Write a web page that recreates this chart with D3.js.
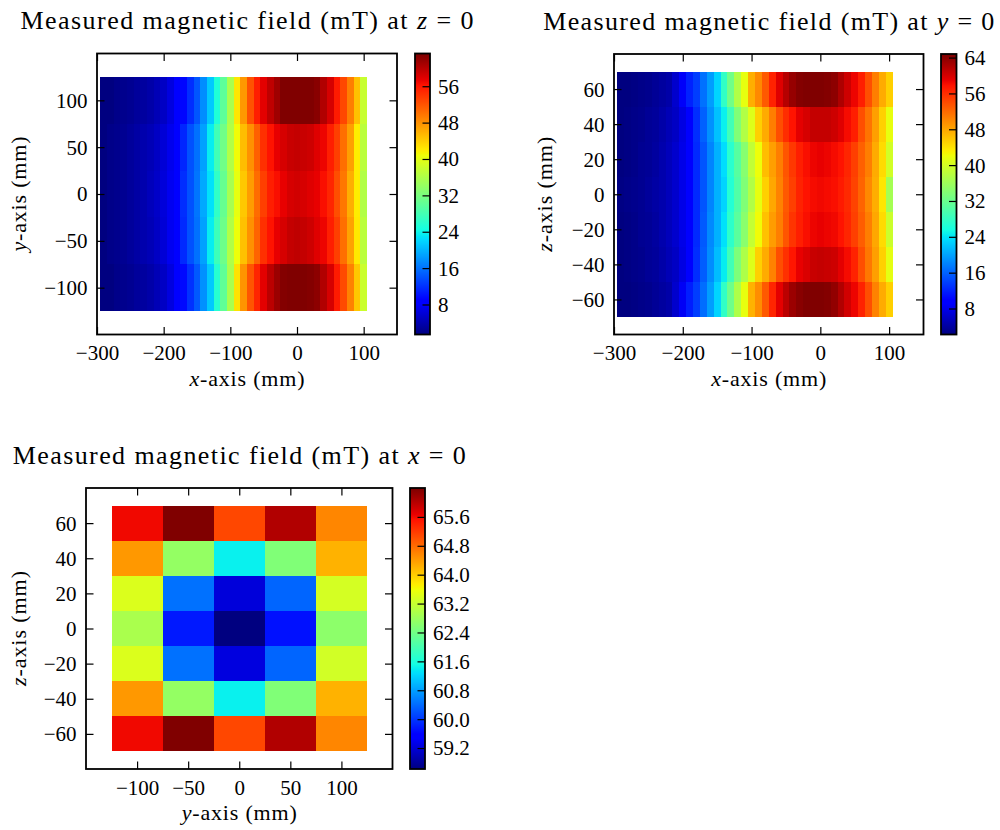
<!DOCTYPE html>
<html><head><meta charset="utf-8">
<script src="https://cdn.jsdelivr.net/npm/d3@7"></script>
<style>
body{margin:0;background:#fff}
svg{display:block}
</style>
</head><body>
<svg id="chart" width="1000" height="830" font-family="Liberation Serif"></svg>
<script>
// ---------- data ----------
// x positions of the scan (mm), shared by the z=0 and y=0 maps
const xPositions = [-290,-280,-270,-260,-250,-240,-230,-220,-210,-200,-190,-180,-170,-160,-150,-140,-130,-120,-110,-100,
  -90,-80,-70,-60,-50,-40,-30,-20,-10,0,10,20,30,40,50,60,70,80,90,100];
const yPositionsA = [100, 50, 0, -50, -100];      // rows of map at z=0
const zPositions = [60, 40, 20, 0, -20, -40, -60]; // rows of maps at y=0 and x=0
const yPositionsC = [-100, -50, 0, 50, 100];      // columns of map at x=0

// Map A : field (mT) at z = 0, one array per y row
const fieldZ0_y100 = [1.4,1.6,1.9,2.2,2.5,2.9,3.3,3.8,4.4,5.1,6.5,8.5,9.6,12.0,14.4,17.8,21.2,25.5,30.0,35.7,
  42.6,47.6,52.1,55.5,57.8,59.8,61.5,63.0,63.2,63.2,63.1,63.0,62.5,60.5,58.5,55.9,53.0,49.3,44.9,38.0];
const fieldZ0_y50 = [1.6,1.9,2.2,2.5,2.9,3.4,3.9,4.5,5.2,6.0,7.4,8.6,11.5,14.0,15.9,18.8,23.6,27.9,31.4,36.3,
  41.0,45.1,48.2,51.3,54.5,56.4,57.6,58.5,59.3,59.5,59.3,58.9,58.0,57.3,55.5,53.5,50.3,47.2,42.1,36.9];
const fieldZ0_y0 = [1.6,1.9,2.3,2.6,3.0,3.5,4.0,4.7,5.4,6.3,7.6,9.0,12.0,14.0,16.3,19.3,22.7,26.7,30.8,35.6,
  40.3,44.5,47.5,50.6,53.5,55.5,56.6,57.6,58.5,58.7,58.5,58.0,57.5,56.6,55.0,52.5,49.7,46.3,42.1,36.3];
const fieldZ0_yM50 = [1.6,1.9,2.2,2.5,2.9,3.4,3.9,4.5,5.2,6.1,7.5,8.8,11.6,14.1,16.0,19.0,23.4,27.6,31.2,36.2,
  40.8,45.0,48.0,51.1,54.3,56.2,57.5,58.6,59.4,59.6,59.4,59.0,58.1,57.2,55.6,53.4,50.2,47.0,42.2,37.0];
const fieldZ0_yM100 = [1.4,1.6,1.9,2.2,2.5,2.9,3.3,3.8,4.4,5.1,6.6,8.4,9.8,12.2,14.6,17.9,21.4,25.8,30.2,35.9,
  42.8,47.8,52.0,55.2,57.8,59.9,61.6,62.9,63.2,63.2,63.1,62.9,62.4,60.4,58.4,55.8,52.8,49.1,44.6,38.2];

// Map B : field (mT) at y = 0, one array per z row
const fieldY0_z60 = [2.2,2.3,2.5,2.8,3.1,3.5,4.0,4.6,6.5,8.9,12.0,13.9,16.9,19.8,23.2,27.8,32.6,37.5,41.8,47.5,
  49.9,53.2,56.8,59.5,61.7,63.4,64.4,64.8,64.8,64.7,64.5,63.9,62.2,60.4,58.8,57.0,53.9,50.7,47.9,45.4];
const fieldY0_z40 = [2.4,2.6,2.8,3.1,3.5,3.9,4.5,5.2,6.1,7.6,9.5,12.9,15.9,18.9,21.8,24.7,29.0,33.8,37.5,41.0,
  45.4,47.9,50.7,53.9,56.0,57.8,59.2,60.0,60.9,61.1,60.9,60.6,59.5,58.4,57.0,53.9,51.4,48.6,45.4,41.8];
const fieldY0_z20 = [2.4,2.6,2.9,3.2,3.6,4.1,4.7,5.4,6.4,7.9,9.6,12.5,15.4,18.3,20.9,23.7,27.2,30.8,34.4,38.8,
  42.3,46.5,48.6,50.7,53.4,55.5,57.0,58.0,58.8,59.0,58.8,58.4,57.8,56.5,54.9,52.8,50.7,47.9,44.6,39.9];
const fieldY0_z0 = [2.5,2.7,3.0,3.3,3.7,4.2,4.8,5.5,6.5,8.0,9.8,12.5,15.4,18.3,20.9,23.2,26.8,30.2,33.8,37.5,
  41.8,45.4,48.1,50.4,53.1,54.9,56.8,57.8,58.3,58.5,58.3,58.0,57.4,56.3,54.6,52.5,50.1,47.5,44.0,36.5];
const fieldY0_zM20 = [2.4,2.6,2.9,3.2,3.6,4.1,4.7,5.4,6.4,7.9,9.7,12.6,15.5,18.4,21.0,23.8,27.4,31.0,34.6,38.9,
  42.4,46.4,48.7,50.8,53.5,55.6,57.1,58.1,58.9,59.1,58.9,58.5,57.9,56.6,55.0,52.9,50.8,48.0,44.7,39.6];
const fieldY0_zM40 = [2.4,2.6,2.8,3.1,3.5,3.9,4.5,5.2,6.1,7.6,9.4,12.8,15.8,18.8,21.7,24.6,28.9,33.6,37.4,40.9,
  45.3,47.8,50.6,53.8,55.9,57.7,59.1,59.9,60.8,61.0,60.8,60.5,59.4,58.3,56.9,53.8,51.3,48.5,45.3,41.5];
const fieldY0_zM60 = [2.2,2.3,2.5,2.8,3.1,3.5,4.0,4.6,6.4,8.8,11.9,13.8,16.8,19.7,23.1,27.7,32.5,37.4,41.7,47.4,
  49.8,53.1,56.7,59.4,61.6,63.3,64.3,64.8,64.7,64.6,64.4,63.8,62.1,60.3,58.7,56.9,53.8,50.6,47.8,45.3];

// Map C : field (mT) at x = 0, one array per z row (columns = yPositionsC)
const fieldX0_z60  = [65.62, 66.40, 65.11, 66.05, 64.59];
const fieldX0_z40  = [64.44, 62.74, 61.42, 62.55, 64.23];
const fieldX0_z20  = [63.40, 60.47, 59.25, 60.37, 63.34];
const fieldX0_z0   = [62.94, 59.78, 58.62, 59.72, 62.67];
const fieldX0_zM20 = [63.41, 60.45, 59.26, 60.38, 63.33];
const fieldX0_zM40 = [64.43, 62.73, 61.43, 62.56, 64.22];
const fieldX0_zM60 = [65.61, 66.40, 65.12, 66.04, 64.60];

// tick labels
const ticksX_AB = [-300, -200, -100, 0, 100];
const ticksY_A = [-100, -50, 0, 50, 100];
const ticksZ = [-60, -40, -20, 0, 20, 40, 60];
const ticksY_C = [-100, -50, 0, 50, 100];
const cbarTicksA = [8, 16, 24, 32, 40, 48, 56];
const cbarTicksB = [8, 16, 24, 32, 40, 48, 56, 64];
const cbarTicksC = [59.2, 60.0, 60.8, 61.6, 62.4, 63.2, 64.0, 64.8, 65.6];

// ---------- jet colormap (matplotlib segment data) ----------
const jetSeg = {
  r: [[0,0],[0.35,0],[0.66,1],[0.89,1],[1,0.5]],
  g: [[0,0],[0.125,0],[0.375,1],[0.64,1],[0.91,0],[1,0]],
  b: [[0,0.5],[0.11,1],[0.34,1],[0.65,0],[1,0]]
};
function segInterp(seg, t) {
  for (let i = 1; i < seg.length; i++) {
    if (t <= seg[i][0]) {
      const [x0, y0] = seg[i-1], [x1, y1] = seg[i];
      return y0 + (y1 - y0) * (t - x0) / (x1 - x0);
    }
  }
  return seg[seg.length-1][1];
}
function jet(t) {
  t = Math.max(0, Math.min(1, t));
  t = Math.min(255, Math.floor(t * 256)) / 255; // 256-entry lut
  return d3.rgb(255*segInterp(jetSeg.r,t), 255*segInterp(jetSeg.g,t), 255*segInterp(jetSeg.b,t)).formatHex();
}

const FONT = "Liberation Serif";
const svg = d3.select("#chart");
const defs = svg.append("defs");
const TICK = 7.5;

function styleText(sel, size) {
  sel.attr("font-family", FONT).attr("font-size", size).attr("fill", "#000");
}

function panel(cfg) {
  const f = cfg.frame;
  const g = svg.append("g");
  const x = d3.scaleLinear().domain(cfg.xDomain).range([f.x0, f.x1]);
  const y = d3.scaleLinear().domain(cfg.yDomain).range([f.y1, f.y0]);
  const all = cfg.rows.flat();
  const vmin = d3.min(all), vmax = d3.max(all);
  const c = d3.scaleLinear().domain([vmin, vmax]).range([0, 1]);

  // cells
  const cells = [];
  cfg.rows.forEach((row, ri) => row.forEach((v, ci) => cells.push({xc: cfg.xCenters[ci], yc: cfg.yCenters[ri], v})));
  g.append("g").selectAll("rect").data(cells).join("rect")
    .attr("x", d => x(d.xc - cfg.dx/2))
    .attr("width", d => x(d.xc + cfg.dx/2) - x(d.xc - cfg.dx/2))
    .attr("y", d => y(d.yc + cfg.dy/2))
    .attr("height", d => y(d.yc - cfg.dy/2) - y(d.yc + cfg.dy/2))
    .attr("fill", d => jet(c(d.v)))
    .attr("shape-rendering", "crispEdges");

  // axes (inward ticks on all four sides)
  const axB = g.append("g").attr("transform", `translate(0,${f.y1})`)
    .call(d3.axisBottom(x).tickValues(cfg.xTicks).tickSizeInner(-TICK).tickSizeOuter(0).tickPadding(11));
  const axT = g.append("g").attr("transform", `translate(0,${f.y0})`)
    .call(d3.axisTop(x).tickValues(cfg.xTicks).tickSizeInner(-TICK).tickSizeOuter(0).tickFormat(""));
  const axL = g.append("g").attr("transform", `translate(${f.x0},0)`)
    .call(d3.axisLeft(y).tickValues(cfg.yTicks).tickSizeInner(-TICK).tickSizeOuter(0).tickPadding(9.5));
  const axR = g.append("g").attr("transform", `translate(${f.x1},0)`)
    .call(d3.axisRight(y).tickValues(cfg.yTicks).tickSizeInner(-TICK).tickSizeOuter(0).tickFormat(""));
  [axB, axT, axL, axR].forEach(a => {
    a.attr("font-family", FONT).attr("font-size", 21);
    a.select(".domain").remove();
    a.selectAll("line").attr("stroke", "#000").attr("stroke-width", 1.2);
    styleText(a.selectAll("text"), 21);
  });
  axL.selectAll("text").attr("dy", "0.33em");

  g.append("rect").attr("x", f.x0).attr("y", f.y0).attr("width", f.x1 - f.x0).attr("height", f.y1 - f.y0)
    .attr("fill", "none").attr("stroke", "#000").attr("stroke-width", 1.8);

  // colorbar
  const cb = cfg.cbar;
  const cy = d3.scaleLinear().domain([vmin, vmax]).range([f.y1, f.y0]);
  const gid = "grad" + cfg.id;
  const grad = defs.append("linearGradient").attr("id", gid).attr("x1", 0).attr("y1", 1).attr("x2", 0).attr("y2", 0);
  d3.range(0, 257).forEach(i => grad.append("stop").attr("offset", i/256).attr("stop-color", jet(i/256)));
  g.append("rect").attr("x", cb.x0).attr("y", f.y0).attr("width", cb.x1 - cb.x0).attr("height", f.y1 - f.y0)
    .attr("fill", `url(#${gid})`);
  const axC = g.append("g").attr("transform", `translate(${cb.x1},0)`)
    .call(d3.axisRight(cy).tickValues(cfg.cbTicks).tickSizeInner(-TICK).tickSizeOuter(0).tickPadding(8).tickFormat(d3.format(cfg.cbFormat)));
  axC.attr("font-family", FONT).attr("font-size", 21);
  axC.select(".domain").remove();
  axC.selectAll("line").attr("stroke", "#000").attr("stroke-width", 1.2);
  styleText(axC.selectAll("text"), 21);
  axC.selectAll("text").attr("dy", "0.33em");
  g.append("rect").attr("x", cb.x0).attr("y", f.y0).attr("width", cb.x1 - cb.x0).attr("height", f.y1 - f.y0)
    .attr("fill", "none").attr("stroke", "#000").attr("stroke-width", 1.8);

  // title
  const cx = (f.x0 + f.x1) / 2;
  const t = g.append("text").attr("x", cx).attr("y", f.y0 - 24.2).attr("text-anchor", "middle");
  styleText(t, 26);
  t.append("tspan").text("Measured magnetic field (mT) at ");
  t.append("tspan").attr("font-style", "italic").text(cfg.titleVar);
  t.append("tspan").text(" = 0");
  t.attr("textLength", cfg.titleWidth).attr("lengthAdjust", "spacing");

  // axis labels
  const xl = g.append("text").attr("x", cx).attr("y", f.y1 + 51).attr("text-anchor", "middle");
  styleText(xl, 22);
  xl.append("tspan").attr("font-style", "italic").text(cfg.xVar);
  xl.append("tspan").text("-axis (mm)");
  xl.attr("textLength", 115).attr("lengthAdjust", "spacing");
  const ly = (f.y0 + f.y1) / 2;
  const yl = g.append("text").attr("transform", `translate(${cfg.yLabelX},${ly}) rotate(-90)`).attr("text-anchor", "middle");
  styleText(yl, 22);
  yl.append("tspan").attr("font-style", "italic").text(cfg.yVar);
  yl.append("tspan").text("-axis (mm)");
  yl.attr("textLength", 115).attr("lengthAdjust", "spacing");
}

panel({
  id: "A", frame: {x0: 97, x1: 397, y0: 53.5, y1: 334.5},
  xDomain: [-300, 150], yDomain: [-150, 150],
  xCenters: xPositions, yCenters: yPositionsA, dx: 10, dy: 50,
  rows: [fieldZ0_y100, fieldZ0_y50, fieldZ0_y0, fieldZ0_yM50, fieldZ0_yM100],
  xTicks: ticksX_AB, yTicks: ticksY_A,
  cbar: {x0: 415, x1: 430}, cbTicks: cbarTicksA, cbFormat: "d",
  titleVar: "z", xVar: "x", yVar: "y", yLabelX: 26, titleWidth: 453
});
panel({
  id: "B", frame: {x0: 614, x1: 923.5, y0: 54, y1: 334.5},
  xDomain: [-300, 150], yDomain: [-80, 80],
  xCenters: xPositions, yCenters: zPositions, dx: 10, dy: 20,
  rows: [fieldY0_z60, fieldY0_z40, fieldY0_z20, fieldY0_z0, fieldY0_zM20, fieldY0_zM40, fieldY0_zM60],
  xTicks: ticksX_AB, yTicks: ticksZ,
  cbar: {x0: 941, x1: 956.5}, cbTicks: cbarTicksB, cbFormat: "d",
  titleVar: "y", xVar: "x", yVar: "z", yLabelX: 552, titleWidth: 451
});
panel({
  id: "C", frame: {x0: 86, x1: 392.5, y0: 488, y1: 769},
  xDomain: [-150, 150], yDomain: [-80, 80],
  xCenters: yPositionsC, yCenters: zPositions, dx: 50, dy: 20,
  rows: [fieldX0_z60, fieldX0_z40, fieldX0_z20, fieldX0_z0, fieldX0_zM20, fieldX0_zM40, fieldX0_zM60],
  xTicks: ticksY_C, yTicks: ticksZ,
  cbar: {x0: 410, x1: 425}, cbTicks: cbarTicksC, cbFormat: ".1f",
  titleVar: "x", xVar: "y", yVar: "z", yLabelX: 26, titleWidth: 453
});
</script>
</body></html>
